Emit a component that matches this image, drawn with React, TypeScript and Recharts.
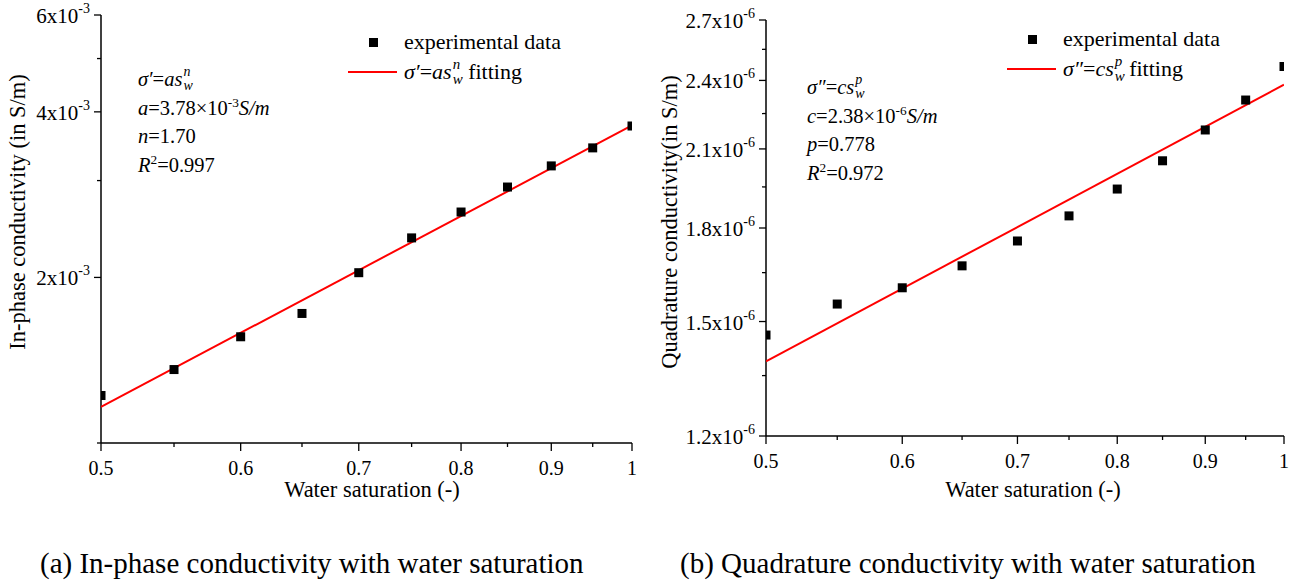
import React from "react";
import { Legend, Scatter, ScatterChart, XAxis, YAxis } from "recharts";

const SATURATION = [0.5, 0.55, 0.6, 0.65, 0.7, 0.75, 0.8, 0.85, 0.9, 0.95, 1];
const IN_PHASE = [
  1.22e-3, 1.36e-3, 1.56e-3, 1.72e-3, 2.04e-3, 2.36e-3, 2.63e-3, 2.92e-3,
  3.19e-3, 3.44e-3, 3.77e-3,
];
const QUADRATURE = [
  1.461e-6, 1.552e-6, 1.602e-6, 1.672e-6, 1.755e-6, 1.843e-6, 1.942e-6,
  2.052e-6, 2.179e-6, 2.31e-6, 2.466e-6,
];
// fitted power law lines, ends
const FIT_X = [0.5, 1];
const IN_PHASE_FIT = [1.163e-3, 3.78e-3];
const QUAD_FIT = [1.388e-6, 2.38e-6];

const X_TICKS = [0.5, 0.55, 0.6, 0.65, 0.7, 0.75, 0.8, 0.85, 0.9, 0.95, 1];
const X_TICK_LABELS = ["0.5", "", "0.6", "", "0.7", "", "0.8", "", "0.9", "", "1"];
const IN_PHASE_TICKS = [1e-3, 2e-3, 3e-3, 4e-3, 5e-3, 6e-3];
const IN_PHASE_TICK_LABELS = ["", "2", "", "4", "", "6"];
const QUAD_TICKS = [
  1.2e-6, 1.35e-6, 1.5e-6, 1.65e-6, 1.8e-6, 1.95e-6, 2.1e-6, 2.25e-6, 2.4e-6,
  2.55e-6, 2.7e-6,
];
const QUAD_TICK_LABELS = ["1.2", "", "1.5", "", "1.8", "", "2.1", "", "2.4", "", "2.7"];

const FONT = '"Liberation Serif", "Times New Roman", Times, serif';
const RED = "#ff0000";

const toPoints = (xs: number[], ys: number[]) =>
  xs.map((x, i) => ({ x, y: ys[i] }));

const XTick = ({ x, y, index }: any) => {
  const label = X_TICK_LABELS[index];
  const major = label !== "";
  return (
    <g>
      <line x1={x} x2={x} y1={y} y2={y + (major ? 8 : 4)} stroke="#000" strokeWidth={1.3} />
      {major && (
        <text x={x} y={y + 31.5} textAnchor="middle" fontSize={20} fontFamily={FONT} fill="#000">
          {label}
        </text>
      )}
    </g>
  );
};

const makeYTick =
  (labels: string[], exp: string) =>
  ({ x, y, index }: any) => {
    const label = labels[index];
    const major = label !== "";
    return (
      <g>
        <line x1={x - (major ? 7 : 4)} x2={x} y1={y} y2={y} stroke="#000" strokeWidth={1.3} />
        {major && (
          <text x={x - 11} y={y + 8} textAnchor="end" fontSize={21} fontFamily={FONT} fill="#000">
            <tspan>{label}x10</tspan>
            <tspan dy={-10} fontSize={14}>
              {exp}
            </tspan>
          </text>
        )}
      </g>
    );
  };

const Square = ({ cx, cy }: any) => (
  <rect x={cx - 4.5} y={cy - 4.5} width={9} height={9} fill="#000" />
);

const NoDot = () => <g />;

// s_w with stacked exponent
const Sw = ({ exp }: { exp: string }) => (
  <span style={{ fontStyle: "italic" }}>
    s
    <span
      style={{
        display: "inline-block",
        position: "relative",
        width: "0.5em",
        height: "1em",
        verticalAlign: "baseline",
      }}
    >
      <span style={{ position: "absolute", left: 1, top: "-0.55em", fontSize: "0.68em" }}>{exp}</span>
      <span style={{ position: "absolute", left: 1, top: "0.45em", fontSize: "0.68em" }}>w</span>
    </span>
  </span>
);

const legendContent = (formula: React.ReactNode) => () =>
  (
    <div style={{ fontFamily: FONT, fontSize: 22, color: "#000", lineHeight: "30px" }}>
      <div style={{ display: "flex", alignItems: "center" }}>
        <span style={{ width: 56, display: "flex", justifyContent: "flex-start" }}>
          <span style={{ width: 9, height: 9, background: "#000", display: "inline-block", marginLeft: 21 }} />
        </span>
        <span>experimental data</span>
      </div>
      <div style={{ display: "flex", alignItems: "center" }}>
        <span style={{ width: 49, height: 2, background: RED, marginRight: 7 }} />
        <span>{formula}</span>
      </div>
    </div>
  );

const Annotation = ({ left, top, lines }: { left: number; top: number; lines: React.ReactNode[] }) => (
  <div
    style={{
      position: "absolute",
      left,
      top,
      fontFamily: FONT,
      fontSize: 20.5,
      lineHeight: "28.5px",
      color: "#000",
      whiteSpace: "nowrap",
    }}
  >
    {lines.map((l, i) => (
      <div key={i}>{l}</div>
    ))}
  </div>
);

const I = ({ children }: { children: React.ReactNode }) => (
  <span style={{ fontStyle: "italic" }}>{children}</span>
);

const Sup = ({ children }: { children: React.ReactNode }) => (
  <sup style={{ fontSize: "0.65em", lineHeight: 0 }}>{children}</sup>
);

const titleStyle: React.CSSProperties = {
  position: "absolute",
  whiteSpace: "nowrap",
  fontSize: 22.5,
  lineHeight: 1,
};

export default function App() {
  const inPhase = toPoints(SATURATION, IN_PHASE);
  const quad = toPoints(SATURATION, QUADRATURE);
  const inPhaseFit = toPoints(FIT_X, IN_PHASE_FIT);
  const quadFit = toPoints(FIT_X, QUAD_FIT);

  return (
    <div
      style={{
        position: "fixed",
        left: 0,
        top: 0,
        width: 1299,
        height: 586,
        background: "#fff",
        fontFamily: FONT,
        color: "#000",
      }}
    >
      {/* (a) in-phase */}
      <div style={{ position: "absolute", left: 0, top: 0 }}>
        <ScatterChart width={650} height={500} margin={{ top: 15, right: 18, bottom: 0, left: 0 }}>
          <XAxis
            dataKey="x"
            type="number"
            scale="log"
            domain={[0.5, 1]}
            allowDataOverflow
            ticks={X_TICKS}
            interval={0}
            tick={<XTick />}
            tickSize={0}
            tickMargin={0}
            tickLine={false}
            height={57}
            axisLine={{ stroke: "#000", strokeWidth: 1.5 }}
          />
          <YAxis
            dataKey="y"
            type="number"
            scale="log"
            domain={[1e-3, 6e-3]}
            allowDataOverflow
            ticks={IN_PHASE_TICKS}
            interval={0}
            tick={makeYTick(IN_PHASE_TICK_LABELS, "-3")}
            tickSize={0}
            tickMargin={0}
            tickLine={false}
            width={101}
            axisLine={{ stroke: "#000", strokeWidth: 1.5 }}
          />
          <Legend
            layout="horizontal"
            verticalAlign="middle"
            align="center"
            wrapperStyle={{ left: 348, top: 27, width: 260, height: 60 }}
            content={legendContent(
              <>
                <I>σ′</I>=<I>a</I>
                <Sw exp="n" />
                {"\u00a0"}fitting
              </>
            )}
          />
          <Scatter
            data={inPhaseFit}
            line={{ stroke: RED, strokeWidth: 2 }}
            shape={<NoDot />}
            isAnimationActive={false}
          />
          <Scatter data={inPhase} fill="#000" shape={<Square />} isAnimationActive={false} />
        </ScatterChart>
      </div>

      {/* (b) quadrature */}
      <div style={{ position: "absolute", left: 650, top: 0 }}>
        <ScatterChart width={650} height={500} margin={{ top: 20, right: 16, bottom: 0, left: 0 }}>
          <XAxis
            dataKey="x"
            type="number"
            scale="log"
            domain={[0.5, 1]}
            allowDataOverflow
            ticks={X_TICKS}
            interval={0}
            tick={<XTick />}
            tickSize={0}
            tickMargin={0}
            tickLine={false}
            height={64}
            axisLine={{ stroke: "#000", strokeWidth: 1.5 }}
          />
          <YAxis
            dataKey="y"
            type="number"
            scale="log"
            domain={[1.2e-6, 2.7e-6]}
            allowDataOverflow
            ticks={QUAD_TICKS}
            interval={0}
            tick={makeYTick(QUAD_TICK_LABELS, "-6")}
            tickSize={0}
            tickMargin={0}
            tickLine={false}
            width={116}
            axisLine={{ stroke: "#000", strokeWidth: 1.5 }}
          />
          <Legend
            layout="horizontal"
            verticalAlign="middle"
            align="center"
            wrapperStyle={{ left: 357, top: 24, width: 260, height: 60 }}
            content={legendContent(
              <>
                <I>σ″</I>=<I>c</I>
                <Sw exp="p" />
                {"\u2009"}fitting
              </>
            )}
          />
          <Scatter
            data={quadFit}
            line={{ stroke: RED, strokeWidth: 2 }}
            shape={<NoDot />}
            isAnimationActive={false}
          />
          <Scatter data={quad} fill="#000" shape={<Square />} isAnimationActive={false} />
        </ScatterChart>
      </div>

      {/* axis titles */}
      <div style={{ ...titleStyle, left: 18, top: 212, transform: "translate(-50%, -50%) rotate(-90deg)" }}>
        In-phase conductivity (in S/m)
      </div>
      <div style={{ ...titleStyle, left: 670, top: 222, transform: "translate(-50%, -50%) rotate(-90deg)" }}>
        Quadrature conductivity(in S/m)
      </div>
      <div style={{ ...titleStyle, left: 372, top: 490, transform: "translate(-50%, -50%)" }}>
        Water saturation (-)
      </div>
      <div style={{ ...titleStyle, left: 1033, top: 490, transform: "translate(-50%, -50%)" }}>
        Water saturation (-)
      </div>

      <Annotation
        left={138}
        top={65}
        lines={[
          <>
            <I>σ′</I>=<I>a</I>
            <Sw exp="n" />
          </>,
          <>
            <I>a</I>=3.78×10<Sup>-3</Sup>
            <I>S/m</I>
          </>,
          <>
            <I>n</I>=1.70
          </>,
          <>
            <I>R</I>
            <Sup>2</Sup>=0.997
          </>,
        ]}
      />
      <Annotation
        left={807}
        top={73}
        lines={[
          <>
            <I>σ″</I>=<I>c</I>
            <Sw exp="p" />
          </>,
          <>
            <I>c</I>=2.38×10<Sup>-6</Sup>
            <I>S/m</I>
          </>,
          <>
            <I>p</I>=0.778
          </>,
          <>
            <I>R</I>
            <Sup>2</Sup>=0.972
          </>,
        ]}
      />

      {/* captions */}
      <div style={{ position: "absolute", left: 40, top: 549, whiteSpace: "nowrap", fontSize: 29, lineHeight: 1 }}>
        (a) In-phase conductivity with water saturation
      </div>
      <div style={{ position: "absolute", left: 680, top: 549, whiteSpace: "nowrap", fontSize: 29, lineHeight: 1 }}>
        (b) Quadrature conductivity with water saturation
      </div>
    </div>
  );
}
